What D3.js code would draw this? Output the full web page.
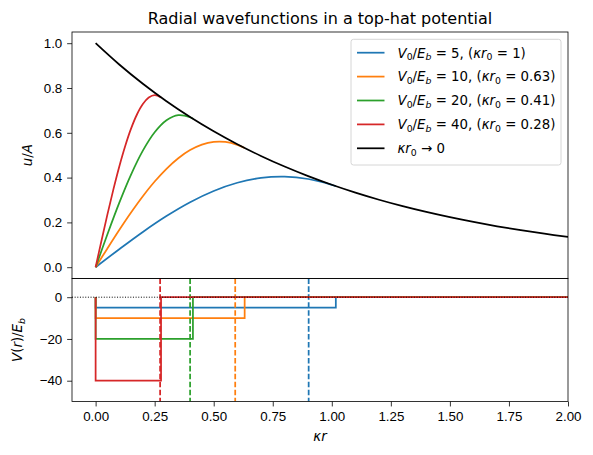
<!DOCTYPE html>
<html>
<head>
<meta charset="utf-8">
<script src="https://cdn.jsdelivr.net/npm/d3@7"></script>
<style>
  body { margin: 0; background: #fff; }
  svg { font-family: 'DejaVu Sans', sans-serif; }
  .tick text { font-size: 13.33px; fill: #000; }
  .tick line { stroke: #000; stroke-width: 0.8; }
</style>
</head>
<body>
<script>
// Radial wavefunctions in a top-hat potential, two stacked panels.

var W = 593, H = 455;

// --- data ---
var ratios = [5, 10, 20, 40];                       // V0/Eb
var kr0Labels = ['1', '0.63', '0.41', '0.28'];
var colors = ['#1f77b4', '#ff7f0e', '#2ca02c', '#d62728'];
var wellEdges = [1.017, 0.631, 0.412, 0.277];       // kappa r0 where the step sits
var dashedAt = [0.902, 0.591, 0.400, 0.273];        // dashed markers in lower panel

// interior parts of u/A, one [kr, u] list per V0/Eb
var uBlue = [[0, 0], [0.1, 0.0803], [0.2, 0.1575], [0.3, 0.2283], [0.4, 0.2901], [0.5, 0.3403],
    [0.6, 0.3769], [0.7, 0.3985], [0.8, 0.4042], [0.9, 0.3938], [1.0, 0.3677], [1.017, 0.3617]];
var uOrange = [[0, 0], [0.05, 0.0838], [0.1, 0.1658], [0.15, 0.2440], [0.2, 0.3167], [0.25, 0.3824],
    [0.3, 0.4394], [0.35, 0.4866], [0.4, 0.5229], [0.45, 0.5474], [0.5, 0.5596], [0.55, 0.5593],
    [0.6, 0.5463], [0.631, 0.5322]];
var uGreen = [[0, 0], [0.05, 0.1470], [0.1, 0.2870], [0.15, 0.4133], [0.2, 0.5202], [0.25, 0.6023],
    [0.3, 0.6559], [0.35, 0.6788], [0.4, 0.6694], [0.412, 0.6624]];
var uRed = [[0, 0], [0.025, 0.1194], [0.05, 0.2358], [0.075, 0.3465], [0.1, 0.4489], [0.125, 0.5402],
    [0.15, 0.6186], [0.175, 0.6817], [0.2, 0.7282], [0.225, 0.7572], [0.25, 0.7677], [0.277, 0.7580]];
// kappa r0 -> 0 limit
var uLimit = [[0, 1.0], [0.1, 0.9048], [0.2, 0.8187], [0.3, 0.7408], [0.4, 0.6703], [0.5, 0.6065],
    [0.6, 0.5488], [0.7, 0.4966], [0.8, 0.4493], [0.9, 0.4066], [1.0, 0.3679], [1.1, 0.3329],
    [1.2, 0.3012], [1.3, 0.2725], [1.4, 0.2466], [1.5, 0.2231], [1.6, 0.2019], [1.7, 0.1827],
    [1.8, 0.1653], [1.9, 0.1496], [2.0, 0.1353]];
var uSeries = [uBlue, uOrange, uGreen, uRed];

var xTicks = [0, 0.25, 0.5, 0.75, 1.0, 1.25, 1.5, 1.75, 2.0];
var yTopTicks = [0, 0.2, 0.4, 0.6, 0.8, 1.0];
var yBotTicks = [-40, -20, 0];

// --- layout ---
var padL = 72, padR = 568, panelTop = 32, panelMid = 278.4, panelBot = 401.6;
var tick = 4.86,
    lw = 1.75;

var svg = d3.select('body').append('svg')
    .attr('width', W)
    .attr('height', H);

var xs = d3.scaleLinear().domain([-0.1, 2.0]).range([padL, padR]);
var yTop = d3.scaleLinear().domain([-0.05, 1.05]).range([panelMid, panelTop]);
var yBot = d3.scaleLinear().domain([-50, 9]).range([panelBot, panelMid]);

var defs = svg.append('defs');
defs.append('clipPath').attr('id', 'clipTop').append('rect')
    .attr('x', padL).attr('y', panelTop).attr('width', padR - padL).attr('height', panelMid - panelTop);
defs.append('clipPath').attr('id', 'clipBot').append('rect')
    .attr('x', padL).attr('y', panelMid).attr('width', padR - padL).attr('height', panelBot - panelMid);

// append text made of pieces: {t, it, sub}
function richText(el, parts, size) {
    var shift = 0;
    parts.forEach(function(p) {
        var ts = el.append('tspan').text(p.t);
        if (p.it) ts.style('font-style', 'italic');
        var want = p.sub ? size * 0.22 : 0;
        if (p.sub) ts.style('font-size', (size * 0.7) + 'px');
        if (want !== shift) { ts.attr('dy', want - shift); shift = want; }
    });
    return el;
}

// --- top panel ---
var line = d3.line()
    .curve(d3.curveCatmullRom)
    .x(function(d) { return xs(d[0]); })
    .y(function(d) { return yTop(d[1]); });

var topG = svg.append('g').attr('clip-path', 'url(#clipTop)');
uSeries.forEach(function(s, i) {
    topG.append('path')
        .attr('d', line(s))
        .attr('fill', 'none')
        .attr('stroke', colors[i])
        .attr('stroke-width', lw);
});
topG.append('path')
    .attr('d', line(uLimit))
    .attr('fill', 'none')
    .attr('stroke', '#000')
    .attr('stroke-width', lw);

svg.append('g')
    .attr('transform', 'translate(' + padL + ',0)')
    .call(d3.axisLeft(yTop).tickValues(yTopTicks).tickFormat(d3.format('.1f'))
        .tickSize(tick).tickPadding(tick))
    .call(function(g) { g.select('.domain').remove(); });

// --- bottom panel ---
var stepLine = d3.line()
    .x(function(d) { return xs(d[0]); })
    .y(function(d) { return yBot(d[1]); });

var botG = svg.append('g').attr('clip-path', 'url(#clipBot)');
ratios.forEach(function(v, i) {
    var pts = [[0, 0], [0, -v], [wellEdges[i], -v], [wellEdges[i], 0], [2.1, 0]];
    botG.append('path')
        .attr('d', stepLine(pts))
        .attr('fill', 'none')
        .attr('stroke', colors[i])
        .attr('stroke-width', lw);
    botG.append('line')
        .attr('x1', xs(dashedAt[i])).attr('x2', xs(dashedAt[i]))
        .attr('y1', panelMid).attr('y2', panelBot)
        .attr('stroke', colors[i])
        .attr('stroke-width', lw)
        .attr('stroke-dasharray', '5.55,2.4');
});
botG.append('line')
    .attr('x1', padL).attr('x2', padR)
    .attr('y1', yBot(0)).attr('y2', yBot(0))
    .attr('stroke', '#000')
    .attr('stroke-width', 1)
    .attr('stroke-dasharray', '1,1.65');

svg.append('g')
    .attr('transform', 'translate(' + padL + ',0)')
    .call(d3.axisLeft(yBot).tickValues(yBotTicks).tickFormat(d3.format('d'))
        .tickSize(tick).tickPadding(tick))
    .call(function(g) { g.select('.domain').remove(); });

svg.append('g')
    .attr('transform', 'translate(0,' + panelBot + ')')
    .call(d3.axisBottom(xs).tickValues(xTicks).tickFormat(d3.format('.2f'))
        .tickSize(tick).tickPadding(tick))
    .call(function(g) { g.select('.domain').remove(); });

// spines
[[panelTop, panelMid], [panelMid, panelBot]].forEach(function(r) {
    svg.append('rect')
        .attr('x', padL).attr('y', r[0])
        .attr('width', padR - padL).attr('height', r[1] - r[0])
        .attr('fill', 'none')
        .attr('stroke', '#000')
        .attr('stroke-width', 0.8);
});

// --- labels ---
svg.append('text')
    .attr('x', (padL + padR) / 2).attr('y', 24)
    .attr('text-anchor', 'middle')
    .style('font-size', '16px')
    .text('Radial wavefunctions in a top-hat potential');

richText(svg.append('text')
    .attr('x', (padL + padR) / 2).attr('y', 441)
    .attr('text-anchor', 'middle')
    .style('font-size', '13.33px'),
    [{t: 'κr', it: true}], 13.33);

richText(svg.append('text')
    .attr('transform', 'translate(32,' + (panelTop + panelMid) / 2 + ') rotate(-90)')
    .attr('text-anchor', 'middle')
    .style('font-size', '13.33px'),
    [{t: 'u', it: true}, {t: '/'}, {t: 'A', it: true}], 13.33);

richText(svg.append('text')
    .attr('transform', 'translate(22,' + (panelMid + panelBot) / 2 + ') rotate(-90)')
    .attr('text-anchor', 'middle')
    .style('font-size', '13.33px'),
    [{t: 'V', it: true}, {t: '('}, {t: 'r', it: true}, {t: ')/'}, {t: 'E', it: true}, {t: 'b', it: true, sub: true}], 13.33);

// --- legend ---
var leg = svg.append('g');
leg.append('rect')
    .attr('x', 351).attr('y', 39.3)
    .attr('width', 210).attr('height', 125.7)
    .attr('rx', 2.5)
    .attr('fill', '#fff').attr('fill-opacity', 0.8)
    .attr('stroke', '#cccccc').attr('stroke-width', 0.8);

var legItems = ratios.map(function(v, i) {
    return {color: colors[i], parts: [
        {t: 'V', it: true}, {t: '0', sub: true}, {t: '/'}, {t: 'E', it: true}, {t: 'b', it: true, sub: true},
        {t: ' = ' + v + ', ('}, {t: 'κr', it: true}, {t: '0', sub: true}, {t: ' = ' + kr0Labels[i] + ')'}
    ]};
});
legItems.push({color: '#000', parts: [{t: 'κr', it: true}, {t: '0', sub: true}, {t: ' → 0'}]});

legItems.forEach(function(d, i) {
    var cy = 52.7 + 23.9 * i;
    leg.append('line')
        .attr('x1', 357).attr('x2', 384.5)
        .attr('y1', cy).attr('y2', cy)
        .attr('stroke', d.color)
        .attr('stroke-width', lw);
    richText(leg.append('text')
        .attr('x', 397.5).attr('y', cy + 4.8)
        .style('font-size', '13.33px'),
        d.parts, 13.33);
});
</script>
</body>
</html>
